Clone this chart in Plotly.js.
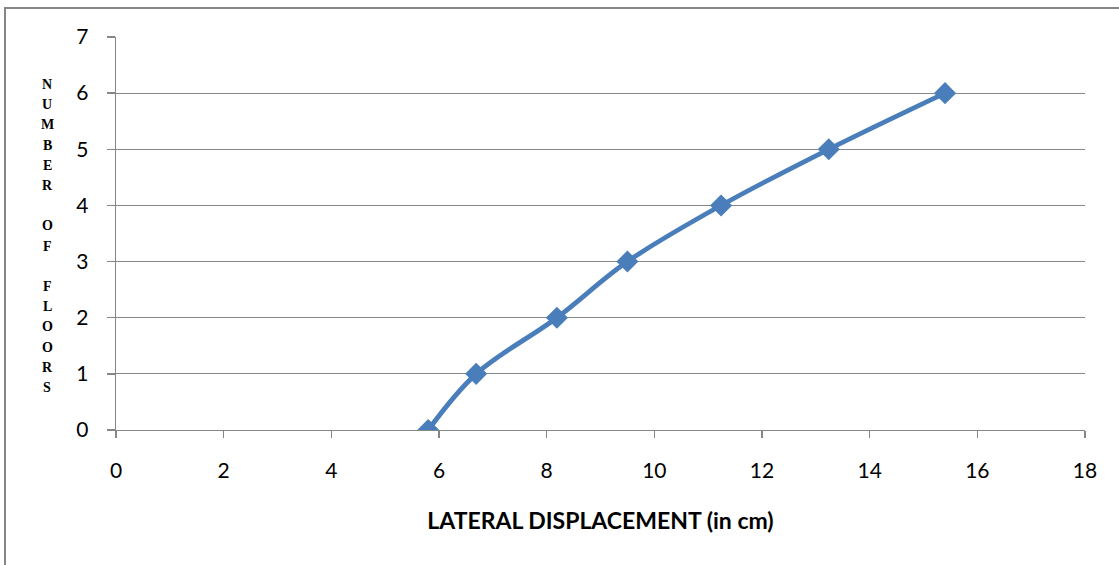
<!DOCTYPE html>
<html>
<head>
<meta charset="utf-8">
<script src="https://cdn.plot.ly/plotly-3.0.1.min.js"></script>
<style>
html,body{margin:0;padding:0;background:#fff;}
#chart{width:1119px;height:565px;}
</style>
</head>
<body>
<div id="chart"></div>
<script>
// Data
var displacement = [5.80, 6.69, 8.19, 9.50, 11.24, 13.24, 15.40];
var floors = [0, 1, 2, 3, 4, 5, 6];
var xTicks = [0, 2, 4, 6, 8, 10, 12, 14, 16, 18];
var yTicks = [0, 1, 2, 3, 4, 5, 6, 7];
var xTitle = "LATERAL DISPLACEMENT (in cm)";
var yTitle = "NUMBER OF FLOORS";

var W = 1119, H = 565;
var mL = 116, mR = 34, mT = 37, mB = 135;
var pw = W - mL - mR, ph = H - mT - mB;
function px2x(px){ return (px - mL) / pw; }
function py2y(py){ return (H - mB - py) / ph; }

var trace = {
  x: displacement,
  y: floors,
  type: 'scatter',
  mode: 'lines+markers',
  line: {color: '#4a7ebb', width: 4.8, shape: 'spline', smoothing: 1},
  marker: {symbol: 'diamond', size: 17, color: '#4a7ebb'},
  hoverinfo: 'x+y',
  showlegend: false
};

// vertical stacked y-axis title
var annotations = [];
var letters = yTitle.split('');
for (var i = 0; i < letters.length; i++) {
  if (letters[i] === ' ') continue;
  annotations.push({
    xref: 'paper', yref: 'paper',
    x: px2x(47), y: py2y(84.5 + i * 20.2),
    xanchor: 'center', yanchor: 'middle',
    text: '<b>' + letters[i] + '</b>', showarrow: false,
    font: {family: 'Liberation Serif, Times New Roman, serif', size: 14, color: '#000'}
  });
}

var layout = {
  width: W, height: H,
  margin: {l: mL, r: mR, t: mT, b: mB, pad: 0},
  paper_bgcolor: '#fff',
  plot_bgcolor: '#fff',
  font: {family: 'Lato, Calibri, sans-serif', color: '#000'},
  xaxis: {
    range: [0, 18],
    tickvals: xTicks,
    ticktext: xTicks.map(String),
    showgrid: false,
    zeroline: false,
    showline: true,
    linecolor: '#868686',
    linewidth: 1.3,
    ticks: 'outside',
    ticklen: 7,
    tickcolor: '#868686',
    tickwidth: 1.3,
    ticklabelstandoff: 14,
    tickfont: {family: 'Lato, Calibri, sans-serif', size: 21, color: '#000'},
    title: {text: '<b>' + xTitle + '</b>', font: {family: 'Lato, Calibri, sans-serif', size: 23, color: '#000'}, standoff: 32},
    fixedrange: true
  },
  yaxis: {
    range: [0, 7],
    tickvals: yTicks,
    ticktext: yTicks.map(String),
    showgrid: true,
    gridcolor: '#878787',
    gridwidth: 1.2,
    zeroline: false,
    showline: true,
    linecolor: '#868686',
    linewidth: 1.3,
    ticks: 'outside',
    ticklen: 8,
    tickcolor: '#868686',
    tickwidth: 1.3,
    ticklabelstandoff: 14,
    tickfont: {family: 'Lato, Calibri, sans-serif', size: 21, color: '#000'},
    title: {text: ''},
    fixedrange: true
  },
  shapes: [{
    type: 'rect', xref: 'paper', yref: 'paper',
    x0: px2x(5), x1: px2x(1130),
    y0: py2y(580), y1: py2y(8),
    line: {color: '#868686', width: 2},
    fillcolor: 'rgba(0,0,0,0)',
    layer: 'below'
  }],
  annotations: annotations
};

Plotly.newPlot('chart', [trace], layout, {displayModeBar: false, staticPlot: true});
</script>
</body>
</html>
